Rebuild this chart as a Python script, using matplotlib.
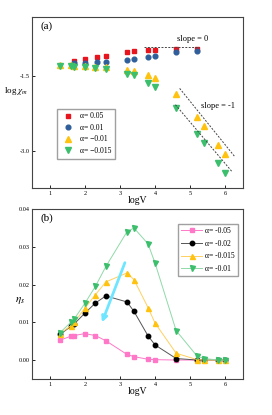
import matplotlib
matplotlib.use("Agg")
import matplotlib.pyplot as plt

plt.rcParams['font.family'] = ['Liberation Serif', 'DejaVu Serif']
plt.rcParams['mathtext.fontset'] = 'stix'

# panel (a): log chi_m vs log V
logv = [1.3, 1.6, 1.7, 2.0, 2.3, 2.6, 3.2, 3.4, 3.8, 4.0, 4.6, 5.2, 5.4, 5.8, 6.0]
logv_a_pos = [1.7, 2.0, 2.35, 2.6, 3.2, 3.4, 3.8, 4.0, 4.6, 5.2]
chi_005 = [-1.18, -1.14, -1.11, -1.08, -1.01, -0.99, -0.97, -0.96, -0.95, -0.95]
chi_001 = [-1.23, -1.22, -1.21, -1.20, -1.16, -1.14, -1.10, -1.08, -1.01, -0.98]
chi_m001 = [-1.26, -1.27, -1.28, -1.28, -1.30, -1.30, -1.36, -1.38, -1.48, -1.54,
            -1.86, -2.32, -2.50, -2.89, -3.07]
chi_m0015 = [-1.28, -1.29, -1.30, -1.31, -1.33, -1.34, -1.44, -1.48, -1.63, -1.72,
             -2.13, -2.66, -2.85, -3.25, -3.44]

# panel (b): eta_s vs log V
eta_m005 = [0.0053, 0.0063, 0.0065, 0.0070, 0.0065, 0.0051, 0.0015, 0.0009, 0.0002,
            0.0001, 0.0, 0.0, 0.0, 0.0, 0.0]
eta_m002 = [0.0068, 0.0089, 0.0096, 0.0124, 0.0151, 0.0170, 0.0154, 0.0129, 0.0064,
            0.0040, 0.0004, 0.0, 0.0, 0.0, 0.0]
eta_m0015 = [0.0070, 0.0091, 0.0100, 0.0137, 0.0173, 0.0207, 0.0231, 0.0213, 0.0139,
             0.0098, 0.0018, 0.0001, 0.0, 0.0, 0.0]
eta_m001 = [0.0073, 0.0100, 0.0109, 0.0150, 0.0195, 0.0248, 0.0340, 0.0350, 0.0308,
            0.0257, 0.0078, 0.0010, 0.0004, 0.0, 0.0]

fig = plt.figure(figsize=(2.72, 4.15), dpi=100)
ax1 = fig.add_axes([0.118, 0.547, 0.775, 0.412])
ax2 = fig.add_axes([0.118, 0.087, 0.775, 0.409])

ms = 3.4
ax1.plot(logv_a_pos, chi_005, 's', color='#e8141e', ms=ms, label='α= 0.05')
ax1.plot(logv_a_pos, chi_001, 'o', color='#2f5f9a', ms=ms, label='α= 0.01')
ax1.plot(logv, chi_m001, '^', color='#ffc20e', ms=ms + 0.6, label='α= −0.01')
ax1.plot(logv, chi_m0015, 'v', color='#3cbf6c', ms=ms + 0.6, label='α= −0.015')

ax1.plot([3.68, 5.26], [-0.895, -0.895], ls=(0, (2, 1.5)), color='#444444', lw=0.7)
ax1.plot([4.70, 6.26], [-1.74, -3.11], ls=(0, (2, 1.5)), color='#444444', lw=0.7)
ax1.plot([4.58, 6.19], [-2.07, -3.42], ls=(0, (2, 1.5)), color='#444444', lw=0.7)
ax1.text(5.07, -0.75, 'slope = 0', fontsize=6, ha='center', va='center')
ax1.text(5.78, -2.09, 'slope = -1', fontsize=6, ha='center', va='center')
ax1.text(0.75, -0.49, '(a)', fontsize=8, ha='left', va='center')

ax1.set_xlim(0.5, 6.5)
ax1.set_ylim(-3.75, -0.3)
ax1.set_xticks([1, 2, 3, 4, 5, 6])
ax1.set_yticks([-1.5, -3.0])
ax1.set_yticklabels(['-1.5', '-3.0'])
ax1.set_xlabel('logV', fontsize=7, labelpad=0)
fig.text(4 / 272, 1 - 91 / 415, r'log $\chi_m$', fontsize=6.5, ha='left', va='center')
ax1.legend(loc='lower left', bbox_to_anchor=(0.1, 0.15), fontsize=5.5, frameon=True,
           fancybox=False, edgecolor='#888888', handletextpad=0.5, borderpad=0.5,
           labelspacing=0.45)

lw = 0.7
ax2.plot(logv, eta_m005, 's-', color='#ff78c8', mfc='#ff78c8', mec='#ff78c8', lw=lw,
         ms=3, label='α= -0.05')
ax2.plot(logv, eta_m002, 'o-', color='#555555', mfc='black', mec='black', lw=lw,
         ms=3.2, label='α= -0.02')
ax2.plot(logv, eta_m0015, '^-', color='#ffd060', mfc='#ffc20e', mec='#ffc20e', lw=lw,
         ms=3.6, label='α= -0.015')
ax2.plot(logv, eta_m001, 'v-', color='#8fd9a8', mfc='#3cbf6c', mec='#3cbf6c', lw=lw,
         ms=3.6, label='α= -0.01')

ax2.annotate('', xy=(2.46, 0.0093), xytext=(3.17, 0.0265),
             arrowprops=dict(arrowstyle='-|>', color='#6ee6ff', lw=2,
                             mutation_scale=8))
ax2.text(0.75, 0.0376, '(b)', fontsize=8, ha='left', va='center')

ax2.set_xlim(0.5, 6.5)
ax2.set_ylim(-0.005, 0.04)
ax2.set_xticks([1, 2, 3, 4, 5, 6])
ax2.set_yticks([0.0, 0.01, 0.02, 0.03, 0.04])
ax2.set_yticklabels(['0.00', '0.01', '0.02', '0.03', '0.04'])
ax2.set_xlabel('logV', fontsize=7, labelpad=0)
fig.text(15 / 272, 1 - 301 / 415, r'$\eta_s$', fontsize=8, ha='left', va='center')
ax2.legend(loc='upper right', bbox_to_anchor=(0.995, 0.935), fontsize=5.5,
           frameon=True, fancybox=False, edgecolor='#888888', handlelength=2.8,
           handletextpad=0.4, borderpad=0.4, labelspacing=0.6)

for ax in (ax1, ax2):
    ax.tick_params(direction='in', length=2, width=0.6, labelsize=4.5, pad=2)
    for s in ax.spines.values():
        s.set_linewidth(0.8)
        s.set_color('#444444')

fig.savefig('out.png', dpi=100)
